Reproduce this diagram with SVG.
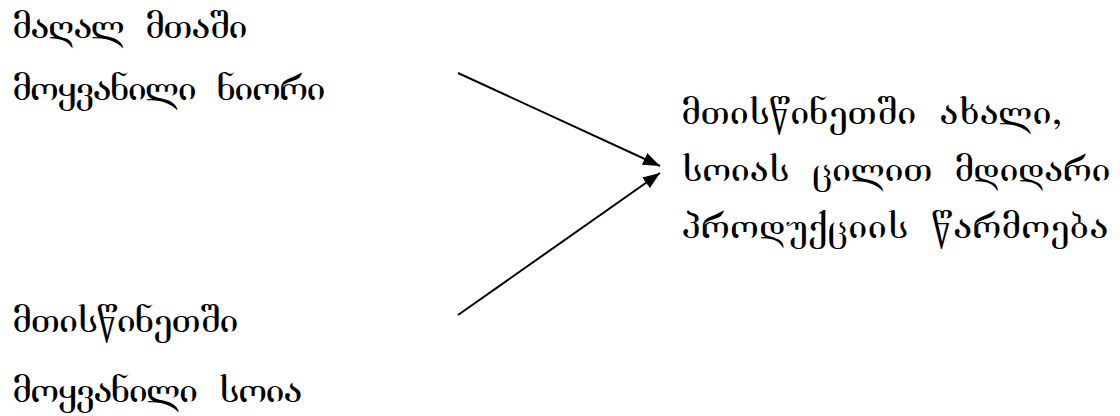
<svg xmlns="http://www.w3.org/2000/svg" width="1120" height="416" viewBox="0 0 1120 416">
<style>
text{font-family:FreeSerif,"DejaVu Sans",serif;font-size:40px;fill:#000;word-spacing:12px}
.c{stroke:#000;stroke-width:2;fill:none}
</style>
<defs>
<marker id="ah" viewBox="0 0 10 10" refX="10" refY="5" markerWidth="17" markerHeight="13" markerUnits="userSpaceOnUse" orient="auto" preserveAspectRatio="none">
<path d="M0,0L10,5L0,10z" fill="#000"/>
</marker>
</defs>
<rect width="1120" height="416" fill="#fff"/>
<g id="n1"><text x="13" y="38" textLength="234" lengthAdjust="spacing">მაღალ მთაში</text><text x="13" y="100" textLength="312" lengthAdjust="spacing">მოყვანილი ნიორი</text></g>
<g id="n2"><text x="13" y="332" textLength="225" lengthAdjust="spacing">მთისწინეთში</text><text x="13" y="402" textLength="289" lengthAdjust="spacing">მოყვანილი სოია</text></g>
<g id="n3"><text x="682" y="124" textLength="380" lengthAdjust="spacing">მთისწინეთში ახალი,</text><text x="682" y="181" textLength="428" lengthAdjust="spacing">სოიას ცილით მდიდარი</text><text x="682" y="238" textLength="426" lengthAdjust="spacing">პროდუქციის წარმოება</text></g>
<g id="connectors">
<line class="c" x1="458" y1="73" x2="660" y2="166" marker-end="url(#ah)"/>
<line class="c" x1="458" y1="315" x2="660" y2="173" marker-end="url(#ah)"/>
</g>
</svg>
